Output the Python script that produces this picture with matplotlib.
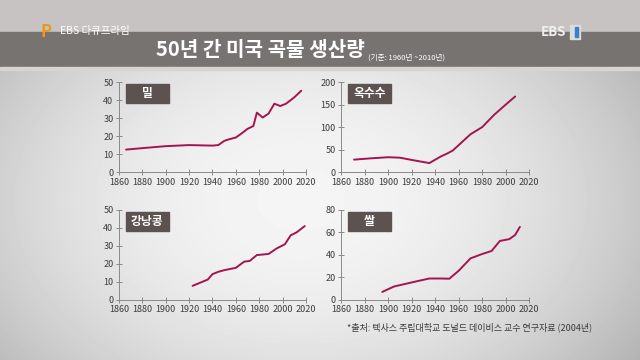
import numpy as np
import matplotlib.pyplot as plt
from matplotlib.patches import Rectangle

plt.rcParams['font.family'] = ['Noto Sans CJK KR', 'DejaVu Sans']

# 생산량 데이터
wheat_years = [1866, 1880, 1900, 1920, 1940, 1945, 1950, 1953, 1960, 1965, 1970, 1975, 1978, 1983, 1988, 1993, 1998, 2003, 2010, 2016]
wheat_vals = [12.5, 13.3, 14.4, 15.0, 14.7, 15.0, 17.3, 18.0, 19.2, 21.5, 24.0, 25.6, 33.0, 30.3, 32.5, 38.0, 36.7, 38.0, 41.5, 45.2]

corn_years = [1871, 1885, 1900, 1910, 1920, 1935, 1945, 1950, 1955, 1960, 1970, 1980, 1990, 2000, 2008]
corn_vals = [27.7, 30.5, 33.0, 32.0, 27.0, 20.0, 35.0, 41.0, 48.0, 60.0, 84.0, 100.0, 127.0, 150.0, 168.0]

soy_years = [1923, 1936, 1940, 1945, 1950, 1960, 1967, 1972, 1978, 1988, 1995, 2002, 2007, 2012, 2019]
soy_vals = [7.8, 11.3, 14.3, 15.6, 16.5, 17.8, 21.2, 21.7, 24.9, 25.5, 28.6, 30.9, 35.9, 37.5, 41.0]

rice_years = [1895, 1905, 1915, 1925, 1935, 1945, 1952, 1960, 1970, 1980, 1988, 1995, 2003, 2008, 2012]
rice_vals = [7.1, 11.9, 14.3, 16.7, 19.0, 19.0, 18.8, 25.9, 36.9, 40.8, 43.5, 52.4, 54.0, 57.7, 64.9]

panels = [
    ('밀', wheat_years, wheat_vals, 50, [0, 10, 20, 30, 40, 50]),
    ('옥수수', corn_years, corn_vals, 200, [0, 50, 100, 150, 200]),
    ('강낭콩', soy_years, soy_vals, 50, [0, 10, 20, 30, 40, 50]),
    ('쌀', rice_years, rice_vals, 80, [0, 20, 40, 60, 80]),
]
x_ticks = list(range(1860, 2021, 20))

line_color = '#a3154f'
box_color = '#5c5350'
tick_color = '#3c3c3c'
spine_color = '#8a8a8a'

fig = plt.figure(figsize=(6.4, 3.6), dpi=100)

# 배경 그라데이션
bg = fig.add_axes([0, 0, 1, 1], zorder=-10)
yy, xx = np.mgrid[0:360, 0:640]
r = np.sqrt(((xx - 300) / 400.0) ** 2 + ((yy - 200) / 280.0) ** 2)
shade = np.clip(0.96 - 0.25 * r ** 2, 0.68, 0.96)
bg.imshow(shade, cmap='gray', vmin=0, vmax=1, aspect='auto', extent=[0, 640, 360, 0])
bg.set_xlim(0, 640)
bg.set_ylim(360, 0)
bg.axis('off')

# 상단 제목 띠
bg.add_patch(Rectangle((0, 0), 640, 32, color='#c6c3c2', zorder=1))
bg.add_patch(Rectangle((0, 32), 640, 35, color='#767371', zorder=2))
bg.add_patch(Rectangle((0, 67), 640, 3, color='#d7d5d4', zorder=2))
bg.text(260, 50, '50년 간 미국 곡물 생산량', color='white', fontsize=14.5,
        fontweight='bold', ha='center', va='center', zorder=3)
bg.text(368, 58, '(기준: 1960년 ~2010년)', color='white', fontsize=5.5,
        ha='left', va='center', zorder=3)
bg.text(46, 32, 'P', color='#e89a1c', fontsize=12, fontweight='bold',
        ha='center', va='center', zorder=3)
bg.text(60, 31, 'EBS 다큐프라임', color='white', fontsize=7.5,
        ha='left', va='center', zorder=3)
bg.text(566, 32, 'EBS', color='#f0f0f0', fontsize=9.5, fontweight='bold',
        ha='right', va='center', zorder=3)
bg.add_patch(Rectangle((570, 25), 10, 14, color='#dcdcdc', zorder=3))
bg.add_patch(Rectangle((575, 27), 3, 10, color='#3d7fc4', zorder=4))
bg.text(592, 327, '*출처: 텍사스 주립대학교 도널드 데이비스 교수 연구자료 (2004년)',
        color='#3a3a3a', fontsize=6.5, ha='right', va='center', zorder=3)

positions = [
    [0.186, 0.522, 0.292, 0.25],
    [0.533, 0.522, 0.294, 0.25],
    [0.186, 0.167, 0.292, 0.25],
    [0.533, 0.167, 0.294, 0.25],
]

for (name, years, vals, ymax, yticks), pos in zip(panels, positions):
    ax = fig.add_axes(pos)
    ax.patch.set_alpha(0)
    ax.plot(years, vals, color=line_color, linewidth=1.4, solid_capstyle='round')
    ax.set_xlim(1860, 2020)
    ax.set_ylim(0, ymax)
    ax.set_xticks(x_ticks)
    ax.set_yticks(yticks)
    ax.tick_params(direction='inout', length=4, width=0.7, color=spine_color,
                   labelsize=6.5, labelcolor=tick_color)
    ax.tick_params(axis='x', pad=2)
    ax.tick_params(axis='y', pad=2)
    for side in ['top', 'right']:
        ax.spines[side].set_visible(False)
    for side in ['left', 'bottom']:
        ax.spines[side].set_color(spine_color)
        ax.spines[side].set_linewidth(0.7)

    ax.add_patch(Rectangle((0.037, 0.767), 0.228, 0.211, transform=ax.transAxes,
                           color=box_color, clip_on=False, zorder=3))
    ax.text(0.151, 0.872, name, transform=ax.transAxes, color='white',
            fontsize=8.5, fontweight='bold', ha='center', va='center', zorder=4)

fig.savefig('out.png', dpi=100)
